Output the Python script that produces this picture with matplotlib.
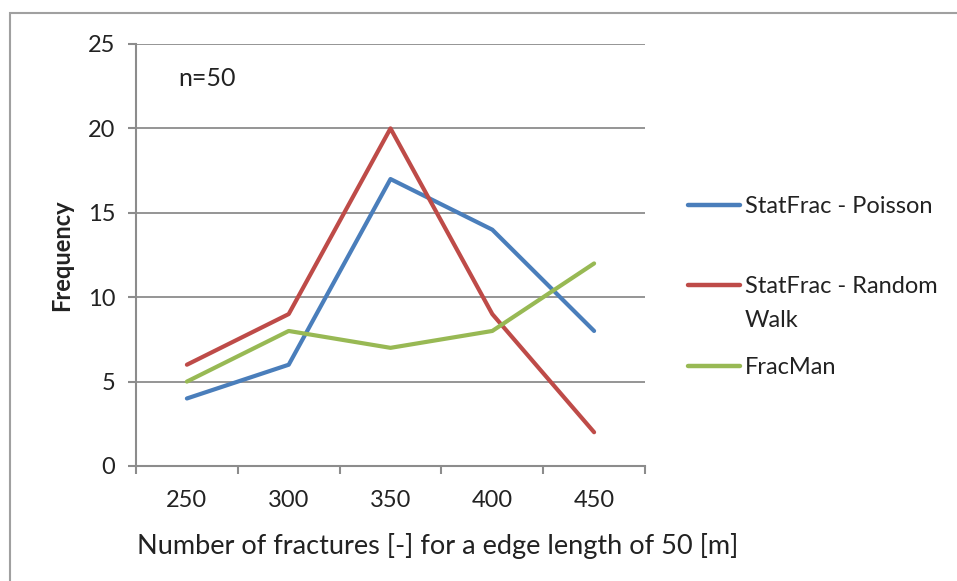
#!/usr/bin/env python3
import matplotlib
matplotlib.use("Agg")
import matplotlib.pyplot as plt
from matplotlib.lines import Line2D
from matplotlib.patches import Rectangle

# --- [ fracture count frequency, n=50 ] ---

CATEGORIES = ["250", "300", "350", "400", "450"]
POISSON = [4, 6, 17, 14, 8]
RANDOM_WALK = [6, 9, 20, 9, 2]
FRACMAN = [5, 8, 7, 8, 12]

SERIES = [
    ("StatFrac - Poisson", POISSON, "#4A7EBB"),
    ("StatFrac - Random\nWalk", RANDOM_WALK, "#BE4B48"),
    ("FracMan", FRACMAN, "#98B954"),
]

Y_TICKS = [0, 5, 10, 15, 20, 25]
FONT = ["Lato", "DejaVu Sans"]
GRID = "#8C8C8C"
TEXT = "#222222"

plt.rcParams["font.family"] = FONT

W, H = 957, 581
fig = plt.figure(figsize=(W / 100, H / 100), dpi=100)

# outer chart frame
fig.patches.append(Rectangle((10 / W, -0.1), 2.0, 1.1 - 13 / H,
                             transform=fig.transFigure, fill=False,
                             edgecolor="#A0A0A0", linewidth=1.5))

ax = fig.add_axes([136 / W, 1 - 466 / H, (645 - 136) / W, (466 - 44) / H])

x = [i + 0.5 for i in range(len(CATEGORIES))]
for label, values, color in SERIES:
    ax.plot(x, values, color=color, linewidth=3.0, solid_capstyle="round",
            solid_joinstyle="round")

ax.set_xlim(0, len(CATEGORIES))
ax.set_ylim(0, 25)
ax.set_yticks(Y_TICKS)
ax.set_xticks(x)
ax.set_xticklabels(CATEGORIES)
ax.set_xticks(range(len(CATEGORIES) + 1), minor=True)
ax.tick_params(axis="x", which="major", length=0, pad=17, labelsize=17,
               colors=TEXT)
ax.tick_params(axis="x", which="minor", length=6, width=1.5, color=GRID,
               direction="out")
ax.tick_params(axis="y", length=6, width=1.5, color=GRID, pad=9,
               labelsize=17, labelcolor=TEXT)

ax.grid(axis="y", color=GRID, linewidth=1.3)
ax.set_axisbelow(True)
for side in ["top", "right"]:
    ax.spines[side].set_visible(False)
for side in ["left", "bottom"]:
    ax.spines[side].set_color(GRID)
    ax.spines[side].set_linewidth(1.5)

ax.set_xlabel("Number of fractures [-] for a edge length of 50 [m]",
              fontsize=19.5, color=TEXT)
ax.xaxis.set_label_coords((438 - 136) / 509, (466 - 546) / 422)
ax.xaxis.label.set_va("center")
ax.set_ylabel("Frequency", fontsize=17, fontweight="bold", color=TEXT)
ax.yaxis.set_label_coords((62 - 136) / 509, 0.5)
ax.yaxis.label.set_va("center")

fig.text(178 / W, 1 - 78 / H, "n=50", fontsize=18, color=TEXT,
         ha="left", va="center")

# legend drawn like the spreadsheet one: handle aligned to first text line
legend_y = [205, 285, 366]
for (label, values, color), ly in zip(SERIES, legend_y):
    yf = 1 - ly / H
    fig.add_artist(Line2D([688 / W, 740 / W], [yf, yf], color=color,
                          linewidth=3.2, solid_capstyle="round",
                          transform=fig.transFigure))
    fig.text(745 / W, yf + 9 / H, label, fontsize=17, color=TEXT,
             ha="left", va="top", linespacing=1.75)

fig.savefig("out.png", dpi=100)
